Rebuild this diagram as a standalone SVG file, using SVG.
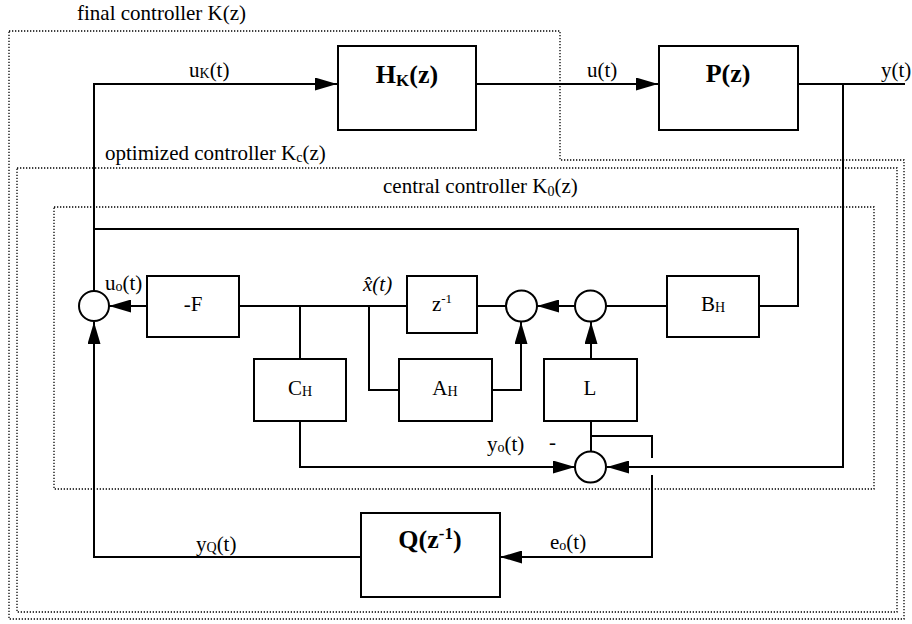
<svg xmlns="http://www.w3.org/2000/svg" width="912" height="624" viewBox="0 0 912 624" font-family="Liberation Serif, serif">
<style>
text{font-family:'Liberation Serif',serif;font-size:21px;fill:#000}
.b{font-weight:bold;font-size:26px}
.m{text-anchor:middle}
.box{fill:#fff;stroke:#000;stroke-width:2}
.sum{fill:#fff;stroke:#000;stroke-width:2}
.w{fill:none;stroke:#000;stroke-width:2}
.dot{fill:none;stroke:#000;stroke-width:1.3;stroke-dasharray:1.3 1.7}
</style>
<defs>
<marker id="ah" markerUnits="userSpaceOnUse" markerWidth="22" markerHeight="13" refX="22" refY="6.5" orient="auto">
<path d="M0,0 L22,6.5 L0,13 Z" fill="#000"/>
</marker>
</defs>
<g id="boundaries">
<path class="dot" d="M9,31 H560 V160 H904 V619 H9 Z"/>
<rect class="dot" x="17" y="168" width="880" height="444"/>
<rect class="dot" x="54" y="207" width="820" height="282"/>
<text x="77" y="20">final controller K(z)</text>
<text x="105" y="160">optimized controller K<tspan font-size="14" dy="2">c</tspan><tspan dy="-2">(z)</tspan></text>
<text x="383" y="193">central controller K<tspan font-size="14" dy="3">0</tspan><tspan dy="-3">(z)</tspan></text>
</g>
<g id="connectors">
<path class="w" d="M94,291 V84 H337" marker-end="url(#ah)"/>
<path class="w" d="M476,84 H658" marker-end="url(#ah)"/>
<path class="w" d="M798,84 H905"/>
<path class="w" d="M843,84 V467 H607" marker-end="url(#ah)"/>
<path class="w" d="M94,229 H798 V306 H759"/>
<path class="w" d="M667,306 H606"/>
<path class="w" d="M575,306 H537" marker-end="url(#ah)"/>
<path class="w" d="M477,306 H506"/>
<path class="w" d="M239,306 H407"/>
<path class="w" d="M147,306 H109" marker-end="url(#ah)"/>
<path class="w" d="M300,306 V359"/>
<path class="w" d="M369,306 V390 H399"/>
<path class="w" d="M492,390 H521 V322" marker-end="url(#ah)"/>
<path class="w" d="M591,359 V322" marker-end="url(#ah)"/>
<path class="w" d="M300,421 V467 H575" marker-end="url(#ah)"/>
<path class="w" d="M591,421 V452"/>
<path class="w" d="M591,436 H652 V458 M652,475 V557 H500" marker-end="url(#ah)"/>
<path class="w" d="M361,557 H94 V322" marker-end="url(#ah)"/>
<text x="189" y="77">u<tspan font-size="14" dy="1">K</tspan><tspan dy="-1">(t)</tspan></text>
<text x="587" y="77">u(t)</text>
<text x="881" y="77">y(t)</text>
<text x="105" y="290">u<tspan font-size="14" dy="1">o</tspan><tspan dy="-1">(t)</tspan></text>
<text x="363" y="291" font-style="italic">x̂(t)</text>
<text x="487" y="451">y<tspan font-size="14" dy="1">o</tspan><tspan dy="-1">(t)</tspan></text>
<text x="549" y="449">-</text>
<text x="196" y="551">y<tspan font-size="14" dy="1">Q</tspan><tspan dy="-1">(t)</tspan></text>
<text x="550" y="549">e<tspan font-size="14" dy="1">o</tspan><tspan dy="-1">(t)</tspan></text>
</g>
<g id="HK"><rect class="box" x="338" y="46" width="138" height="84"/><text class="b m" x="407" y="83">H<tspan font-size="17" dy="3">K</tspan><tspan dy="-3">(z)</tspan></text></g>
<g id="P"><rect class="box" x="659" y="46" width="139" height="84"/><text class="b m" x="728" y="82">P(z)</text></g>
<g id="F"><rect class="box" x="147" y="276" width="92" height="61"/><text class="m" x="193" y="311">-F</text></g>
<g id="zinv"><rect class="box" x="407" y="276" width="70" height="57"/><text class="m" x="442" y="311">z<tspan font-size="13" dy="-8">-1</tspan></text></g>
<g id="BH"><rect class="box" x="667" y="276" width="92" height="61"/><text class="m" x="713" y="311">B<tspan font-size="14" dy="1">H</tspan></text></g>
<g id="CH"><rect class="box" x="254" y="359" width="92" height="62"/><text class="m" x="300" y="395">C<tspan font-size="14" dy="1">H</tspan></text></g>
<g id="AH"><rect class="box" x="399" y="359" width="93" height="62"/><text class="m" x="445" y="395">A<tspan font-size="14" dy="1">H</tspan></text></g>
<g id="L"><rect class="box" x="544" y="359" width="93" height="62"/><text class="m" x="590" y="395">L</text></g>
<g id="Q"><rect class="box" x="361" y="513" width="139" height="84"/><text class="b m" x="430" y="548">Q(z<tspan font-size="17" dy="-9">-1</tspan><tspan dy="9">)</tspan></text></g>
<g id="sum1"><circle class="sum" cx="94" cy="306" r="15"/></g>
<g id="sum2"><circle class="sum" cx="521.5" cy="306" r="15.5"/></g>
<g id="sum3"><circle class="sum" cx="590.5" cy="306" r="15.5"/></g>
<g id="sum4"><circle class="sum" cx="590.5" cy="467" r="15.5"/></g>
</svg>
